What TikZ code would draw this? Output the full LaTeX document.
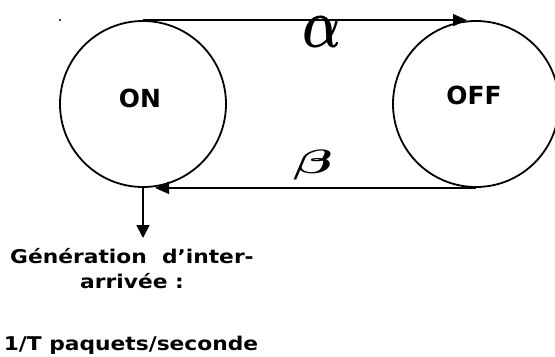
\documentclass[tikz,border=0pt]{standalone}
\usepackage{graphicx,amsmath}
\usepackage{fontspec}
\setmainfont{DejaVu Sans}
\newfontfamily\lblfont[FakeStretch=1.15]{DejaVu Sans Bold}
\usetikzlibrary{arrows.meta}
\tikzset{
  state/.style={circle,draw,line width=1.8bp,minimum size=166bp,inner sep=0pt},
  trans/.style={line width=1.8bp,-{Triangle[length=14bp,width=12bp]}},
  statelbl/.style={font=\bfseries\fontsize{25}{28}\selectfont},
  txtlbl/.style={font=\lblfont\fontsize{19}{25}\selectfont,align=center}
}
\begin{document}
\begin{tikzpicture}[x=1bp,y=1bp]
\path[use as bounding box] (0,0) rectangle (555,356);
% les deux etats
\node[state] (on) at (143,252) {};
\node[state] (off) at (476,252) {};
\node[statelbl] (onlbl) at (140,258) {ON};
\node[statelbl] (offlbl) at (474,261) {OFF};
% transitions
\draw[trans,shorten >=9bp] (on.north) -- (off.north);
\draw[trans,shorten >=12bp] (off.south) -- (on.south);
\node (alpha) at (322,324) {\resizebox{39bp}{31bp}{$\boldsymbol{\alpha}$}};
\node (beta) at (313,191) {\resizebox*{40bp}{30bp}{$\boldsymbol{\beta}$}};
\fill (60,336) circle (1.2bp);
% generation
\coordinate (gen) at (143,118);
\draw[trans,-{Triangle[length=13bp,width=13bp]}] (on.south) -- (gen);
\node[txtlbl,anchor=base] (gentxt) at (132,68) {G\'en\'eration\ \ d’inter-\\arriv\'ee :};
\node[txtlbl,anchor=base] (rate) at (131,6) {1/T paquets/seconde};
\end{tikzpicture}
\end{document}
